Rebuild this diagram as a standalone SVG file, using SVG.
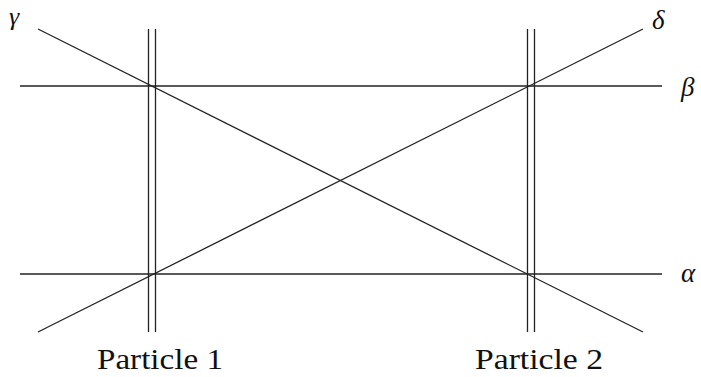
<svg xmlns="http://www.w3.org/2000/svg" width="701" height="377" viewBox="0 0 701 377">
<style>
.ln{stroke:#222;stroke-width:1.3;fill:none}
.gr{font-family:"Liberation Serif","DejaVu Serif",serif;font-style:italic;font-size:27px;fill:#111}
.lb{font-family:"Liberation Serif","DejaVu Serif",serif;font-size:30px;fill:#111}
</style>
<rect width="701" height="377" fill="#fff"/>
<g id="connectors">
<line class="ln" x1="20" y1="86" x2="662" y2="86"/>
<line class="ln" x1="20" y1="274" x2="662" y2="274"/>
<line class="ln" x1="38" y1="29" x2="643" y2="332"/>
<line class="ln" x1="38" y1="332" x2="643" y2="29"/>
</g>
<g id="particle1">
<line class="ln" x1="148.5" y1="29" x2="148.5" y2="332"/>
<line class="ln" x1="155.5" y1="29" x2="155.5" y2="332"/>
<text class="lb" x="97" y="369" textLength="126" lengthAdjust="spacingAndGlyphs">Particle 1</text>
</g>
<g id="particle2">
<line class="ln" x1="527.5" y1="29" x2="527.5" y2="332"/>
<line class="ln" x1="534.5" y1="29" x2="534.5" y2="332"/>
<text class="lb" x="475" y="369" textLength="128" lengthAdjust="spacingAndGlyphs">Particle 2</text>
</g>
<g id="labels">
<text class="gr" x="9" y="25" style="font-size:26px">γ</text>
<text class="gr" x="652" y="29">δ</text>
<text class="gr" x="681" y="96">β</text>
<text class="gr" x="681" y="282">α</text>
</g>
</svg>
